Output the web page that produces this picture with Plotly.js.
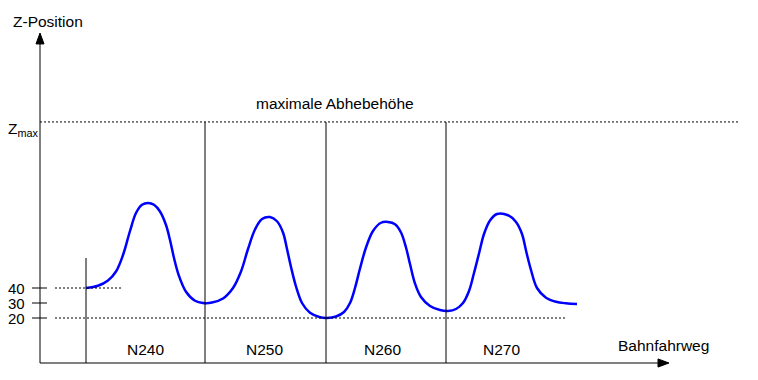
<!DOCTYPE html>
<html><head><meta charset="utf-8">
<script src="https://cdn.plot.ly/plotly-3.0.1.min.js"></script>
<style>html,body{margin:0;padding:0;background:#fff}#chart{width:758px;height:380px}</style>
</head><body><div id="chart"></div>
<script>
// Path (Bahnfahrweg) and Z-position of the tool path
const pathX = [46, 58, 68, 76, 83, 90, 96, 102, 108, 114, 120, 126, 130, 134, 139, 146, 155, 163, 172, 183, 193, 201, 208, 215, 222, 230, 237, 243, 247, 251, 256, 262, 270, 280, 287,
  296, 304, 310, 315, 320, 326, 333, 341, 348, 355, 361, 366, 370, 375, 381, 390, 400, 408, 416, 423, 429, 434, 439, 444, 450, 457, 468, 476, 482, 486, 491, 497, 506, 516, 526, 537];
const pathZ = [40, 41.5, 45, 51, 62, 78, 90, 95.5, 96.7, 95.5, 91, 82, 72, 60, 48, 37.5, 31.5, 30, 30.3, 33, 40, 51, 66, 79, 86, 87.3, 84.5, 77, 66, 54, 41, 30, 23.5, 20.5, 20,
  21, 24, 30, 40, 53, 67, 78, 83.5, 84, 82.5, 77, 67, 56, 43, 34, 28, 25.3, 24.7, 26, 30, 38, 50, 63, 76, 85, 89.3, 88.5, 84, 76, 65, 52, 40, 33.5, 30.8, 29.8, 29.3];
// Block boundaries and names
const blockBounds = [46, 165, 286, 406];
const blockNames = ['N240', 'N250', 'N260', 'N270'];
const blockLabelX = [105, 224, 342, 461];
// Z levels
const zTickVals = [40, 30, 20];
const zTickText = ['40', '30', '20'];
const zMax = 150.7;
const zMaxLabel = 'Z<sub>max</sub>';
const zMaxText = 'maximale Abhebehöhe';
const yTitle = 'Z-Position';
const xTitle = 'Bahnfahrweg';

const FONT = {family: 'Liberation Sans, Arial, sans-serif', size: 15.5, color: '#000'};
const axisBottom = -10, axisTop = 210, axisRight = 629;
const shapes = [];
const line = (x0, y0, x1, y1, extra) => shapes.push(Object.assign({type: 'line', xref: 'x', yref: 'y', x0, y0, x1, y1,
  line: {color: '#000', width: 1}}, extra || {}));

// axes
line(0, axisBottom, 0, axisTop - 6);
line(0, axisBottom, axisRight - 8, axisBottom);
shapes.push({type: 'path', xref: 'x', yref: 'y', path: `M -4 ${axisTop - 7.3} L 4 ${axisTop - 7.3} L 0 ${axisTop} Z`, fillcolor: '#000', line: {color: '#000', width: 1}});
shapes.push({type: 'path', xref: 'x', yref: 'y', path: `M ${axisRight - 11} ${axisBottom - 2.7} L ${axisRight - 11} ${axisBottom + 2.7} L ${axisRight} ${axisBottom} Z`, fillcolor: '#000', line: {color: '#000', width: 1}});
// ticks on the z axis
zTickVals.forEach(v => line(-8, v, 7, v));
// dotted helper lines
line(0, zMax, 700, zMax, {line: {color: '#000', width: 1, dash: '2px,2px'}});
line(15, zTickVals[0], 83, zTickVals[0], {line: {color: '#000', width: 1, dash: '2px,2px'}});
line(15, zTickVals[2], 527, zTickVals[2], {line: {color: '#000', width: 1, dash: '2px,2px'}});
// block boundaries
blockBounds.forEach((b, i) => line(b, axisBottom, b, i === 0 ? 60 : zMax));

const annotations = [];
const ann = (x, y, text, xanchor, extra) => annotations.push(Object.assign({x, y, xref: 'x', yref: 'y', text, showarrow: false,
  xanchor: xanchor || 'center', yanchor: 'middle', font: FONT, borderpad: 0}, extra || {}));
zTickVals.forEach((v, i) => ann(-14, v, zTickText[i], 'right', {font: Object.assign({}, FONT, {size: 15})}));
blockNames.forEach((n, i) => ann(blockLabelX[i], -0.7, n));
ann(8, 218, yTitle);
ann(-17, 145.5, zMaxLabel);
ann(295, 163.3, zMaxText);
ann(623, 2, xTitle);

const trace = {x: pathX, y: pathZ, type: 'scatter', mode: 'lines',
  line: {color: '#0000ff', width: 2.5, shape: 'spline', smoothing: 1}, hoverinfo: 'skip'};

Plotly.newPlot('chart', [trace], {
  width: 758, height: 380, margin: {l: 0, r: 0, t: 0, b: 0},
  paper_bgcolor: '#fff', plot_bgcolor: '#fff', showlegend: false,
  xaxis: {range: [-40, 718], visible: false, fixedrange: true},
  yaxis: {range: [-21.33, 232], visible: false, fixedrange: true},
  shapes, annotations
}, {staticPlot: true});
</script></body></html>
